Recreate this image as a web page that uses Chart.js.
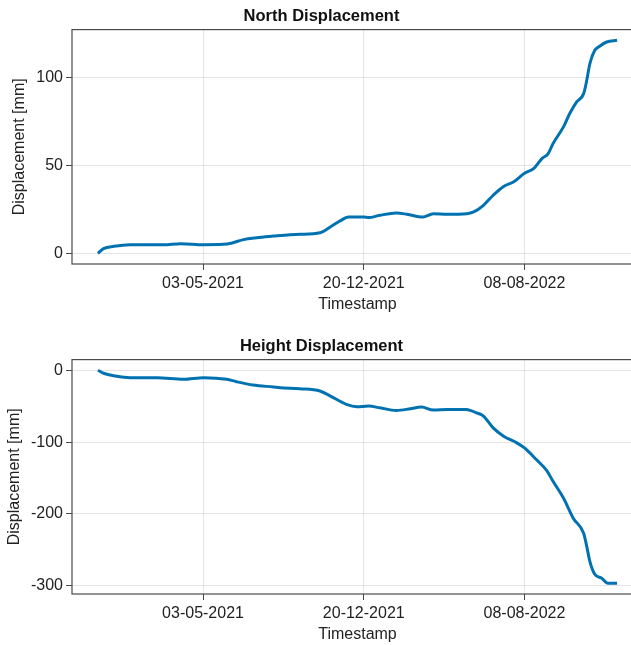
<!DOCTYPE html>
<html>
<head>
<meta charset="utf-8">
<script src="https://cdn.jsdelivr.net/npm/chart.js@4.4.0/dist/chart.umd.min.js"></script>
<style>
  html, body { margin: 0; padding: 0; background: #fff; overflow: hidden; }
  body { width: 631px; height: 645px; position: relative; }
  .panel { position: absolute; left: 0; width: 660px; height: 320px; }
  #northPanel { top: 0; }
  #heightPanel { top: 330px; }
</style>
</head>
<body>
<div class="panel" id="northPanel"><canvas id="northChart" width="660" height="320"></canvas></div>
<div class="panel" id="heightPanel"><canvas id="heightChart" width="660" height="320"></canvas></div>
<script>
// values
const northDates = [
    "2020-12-03", "2020-12-11", "2020-12-26", "2021-01-18", "2021-02-11", "2021-03-07",
    "2021-04-01", "2021-05-04", "2021-06-01", "2021-06-14", "2021-06-30", "2021-07-19",
    "2021-08-12", "2021-09-05", "2021-09-19", "2021-10-18", "2021-11-02", "2021-11-16",
    "2021-11-28", "2021-12-20", "2021-12-27", "2022-01-12", "2022-02-05", "2022-02-20",
    "2022-03-15", "2022-03-30", "2022-04-19", "2022-05-17", "2022-05-27", "2022-06-10",
    "2022-06-24", "2022-07-09", "2022-07-23", "2022-08-08", "2022-08-21", "2022-09-02",
    "2022-09-11", "2022-09-18", "2022-10-03", "2022-10-12", "2022-10-22", "2022-11-01",
    "2022-11-05", "2022-11-10", "2022-11-17", "2022-11-24", "2022-12-04", "2022-12-19"
];
const northValues = [
    0, 2.7, 4.0, 4.9, 4.9, 4.9,
    5.5, 4.9, 5.1, 5.9, 7.8, 8.9,
    9.8, 10.6, 10.8, 11.7, 15, 18.4,
    20.6, 20.6, 20.3, 21.6, 22.9, 22.2,
    20.6, 22.5, 22.2, 22.5, 23.5, 27.3,
    33, 38, 40.5, 45.5, 48.1, 53.8,
    56.6, 62.3, 71.8, 79.4, 86, 90.7,
    97.3, 107.8, 115.3, 117.6, 120, 121
];

const heightDates = [
    "2020-12-03", "2020-12-11", "2020-12-28", "2021-01-18", "2021-02-26", "2021-04-05",
    "2021-05-04", "2021-06-06", "2021-06-20", "2021-07-14", "2021-08-12", "2021-08-22",
    "2021-09-19", "2021-10-18", "2021-11-02", "2021-11-25", "2021-12-10", "2021-12-27",
    "2022-01-12", "2022-02-05", "2022-02-25", "2022-03-13", "2022-03-30", "2022-04-19",
    "2022-05-17", "2022-05-22", "2022-05-31", "2022-06-10", "2022-06-24", "2022-07-09",
    "2022-07-28", "2022-08-08", "2022-08-25", "2022-09-09", "2022-09-18", "2022-10-03",
    "2022-10-17", "2022-11-01", "2022-11-05", "2022-11-10", "2022-11-17", "2022-11-27",
    "2022-12-06", "2022-12-19"
];
const heightValues = [
    0, -4.2, -8, -10.3, -10.3, -12.6,
    -10.3, -12.6, -15.9, -20.5, -23.3, -24.3,
    -25.7, -28.9, -35.9, -47.5, -50.8, -49.9,
    -52.2, -55.9, -53.6, -51.3, -55.4, -54.5,
    -54.5, -55.9, -59.2, -63.8, -80.2, -91.8,
    -101.1, -108.1, -124.3, -139.7, -154.6, -177.9,
    -205.9, -226.8, -243, -266.3, -284, -289.6,
    -296.6, -296.6
];

const dateTicks = ["2021-05-03", "2021-12-20", "2022-08-08"];
const northTicks = [0, 50, 100];
const heightTicks = [-300, -200, -100, 0];

const FONT = "'Liberation Sans', Arial, Helvetica, sans-serif";
const LINE_COLOR = "rgb(0, 114, 178)";
const SPINE_COLOR = "#4a4a4a";
const GRID_COLOR = "rgba(0, 0, 0, 0.1)";

Chart.defaults.font.family = FONT;
Chart.defaults.font.size = 16;
Chart.defaults.color = "#222";

function toMs(d) {
    return Date.parse(d + "T00:00:00Z");
}

function fmtDate(ms) {
    const d = new Date(ms);
    const dd = String(d.getUTCDate()).padStart(2, "0");
    const mm = String(d.getUTCMonth() + 1).padStart(2, "0");
    return dd + "-" + mm + "-" + d.getUTCFullYear();
}

// 5% margin on each side, like the original plot's auto limits
function padded(lo, hi) {
    const m = (hi - lo) * 0.05;
    return [lo - m, hi + m];
}

// full box around the plot area
const framePlugin = {
    id: "frame",
    afterDraw(chart) {
        const { ctx, chartArea: a } = chart;
        ctx.save();
        ctx.strokeStyle = SPINE_COLOR;
        ctx.lineWidth = 1.2;
        ctx.strokeRect(a.left, a.top, a.right - a.left, a.bottom - a.top);
        ctx.restore();
    }
};

function createChart(canvasId, title, dates, values, yTicks, yTitlePad) {
    const points = dates.map((d, i) => ({ x: toMs(d), y: values[i] }));
    const xs = points.map(p => p.x);
    const [xMin, xMax] = padded(Math.min(...xs), Math.max(...xs));
    const [yMin, yMax] = padded(Math.min(...values), Math.max(...values));

    return new Chart(document.getElementById(canvasId), {
        type: "line",
        data: {
            datasets: [{
                data: points,
                borderColor: LINE_COLOR,
                borderWidth: 3,
                pointRadius: 0,
                fill: false,
                cubicInterpolationMode: "monotone"
            }]
        },
        options: {
            responsive: false,
            animation: false,
            layout: { padding: { left: 0, right: 17, top: 0, bottom: 0 } },
            plugins: {
                legend: { display: false },
                tooltip: { enabled: false },
                title: {
                    display: true,
                    text: title,
                    color: "#111",
                    font: { size: 16.5, weight: "bold", family: FONT },
                    padding: { top: 7, bottom: 2.8 }
                }
            },
            scales: {
                x: {
                    type: "linear",
                    min: xMin,
                    max: xMax,
                    border: { display: false },
                    grid: { color: GRID_COLOR, tickColor: SPINE_COLOR, tickLength: 6, lineWidth: 1 },
                    ticks: { padding: 4, maxRotation: 0, callback: v => fmtDate(v) },
                    afterBuildTicks: scale => {
                        scale.ticks = dateTicks.map(d => ({ value: toMs(d) }));
                    },
                    afterFit: scale => { scale.height = 56; },
                    title: {
                        display: true,
                        text: "Timestamp",
                        color: "#222",
                        padding: { top: 0, bottom: 6 }
                    }
                },
                y: {
                    min: yMin,
                    max: yMax,
                    border: { display: false },
                    grid: { color: GRID_COLOR, tickColor: SPINE_COLOR, tickLength: 6, lineWidth: 1 },
                    ticks: { padding: 3 },
                    afterBuildTicks: scale => {
                        scale.ticks = yTicks.map(v => ({ value: v }));
                    },
                    afterFit: scale => { scale.width = 72; },
                    title: {
                        display: true,
                        text: "Displacement [mm]",
                        color: "#222",
                        padding: { top: yTitlePad, bottom: 0 }
                    }
                }
            }
        },
        plugins: [framePlugin]
    });
}

createChart("northChart", "North Displacement", northDates, northValues, northTicks, 10.2);
createChart("heightChart", "Height Displacement", heightDates, heightValues, heightTicks, 5.2);
</script>
</body>
</html>
